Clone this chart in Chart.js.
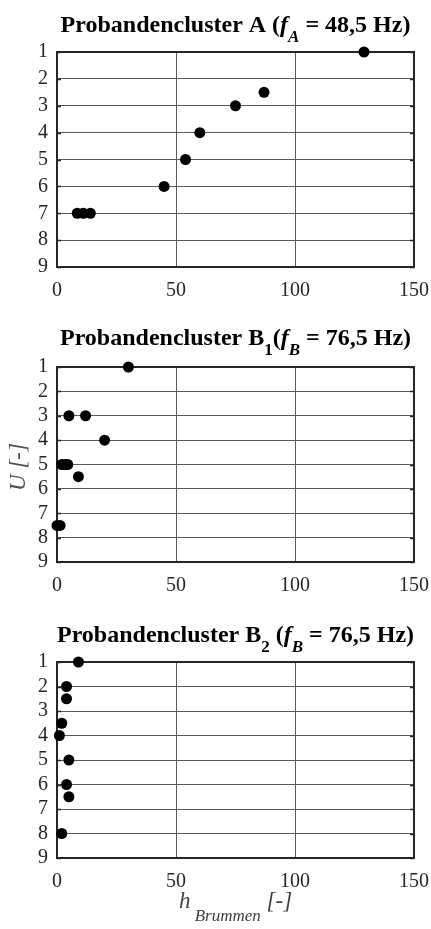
<!DOCTYPE html>
<html>
<head>
<meta charset="utf-8">
<script src="https://cdn.jsdelivr.net/npm/chart.js@4"></script>
<style>
  html, body { margin: 0; padding: 0; background: #fff; }
  body { width: 431px; height: 929px; position: relative; overflow: hidden; }
  .box { position: absolute; left: 0; width: 431px; }
  canvas { display: block; }
</style>
</head>
<body>
<div class="box" style="top:0px;height:300px"><canvas id="cA" width="431" height="300"></canvas></div>
<div class="box" style="top:300px;height:305px"><canvas id="cB1" width="431" height="305"></canvas></div>
<div class="box" style="top:605px;height:324px"><canvas id="cB2" width="431" height="324"></canvas></div>
<script>
// Daten: h_Brummen (x) und Urteil U (y)
const xA  = [129, 87, 75, 60, 54, 45, 8.5, 11, 14];
const yA  = [1, 2.5, 3, 4, 5, 6, 7, 7, 7];

const xB1 = [30, 5, 12, 20, 2, 3.5, 4.5, 9, 0, 1.3];
const yB1 = [1, 3, 3, 4, 5, 5, 5, 5.5, 7.5, 7.5];

const xB2 = [9, 4, 4, 2, 1, 5, 4, 5, 2];
const yB2 = [1, 2, 2.5, 3.5, 4, 5, 6, 6.5, 8];

const xTicks = [0, 50, 100, 150];
const yTicks = [1, 2, 3, 4, 5, 6, 7, 8, 9];

const SERIF = '"Liberation Serif", "Times New Roman", serif';
const INK = '#262626';

function pts(xs, ys) {
    return xs.map((x, i) => ({ x: x, y: ys[i] }));
}

// zeichnet Rahmen, kleine Ticks und Texte mit Sub-/Kursivteilen
const deko = {
    id: 'deko',
    beforeDatasetsDraw(chart) {
        const a = chart.chartArea;
        const c = chart.ctx;
        c.save();
        c.strokeStyle = INK;
        c.lineWidth = 1.5;
        const ys = chart.scales.y;
        yTicks.forEach(v => {
            const py = Math.round(ys.getPixelForValue(v)) + 0.5;
            c.beginPath();
            c.moveTo(a.left, py); c.lineTo(a.left + 4, py);
            c.moveTo(a.right, py); c.lineTo(a.right - 4, py);
            c.stroke();
        });
        c.lineWidth = 2;
        c.strokeRect(a.left, a.top, a.right - a.left, a.bottom - a.top);
        c.restore();
    },
    afterDraw(chart, args, opts) {
        const c = chart.ctx;
        const a = chart.chartArea;
        (opts.texts || []).forEach(tx => {
            c.save();
            let w = 0;
            tx.parts.forEach(p => { c.font = p.font; w += c.measureText(p.t).width; });
            const cx = tx.x === 'mid' ? (a.left + a.right) / 2 : tx.x;
            c.translate(cx, tx.y);
            if (tx.rot) c.rotate(tx.rot);
            let x = -w / 2;
            c.textBaseline = 'alphabetic';
            c.textAlign = 'left';
            tx.parts.forEach(p => {
                c.font = p.font;
                c.fillStyle = p.color || tx.color || '#000';
                c.fillText(p.t, x, p.dy || 0);
                x += c.measureText(p.t).width;
            });
            c.restore();
        });
    }
};

const B = 'bold 24px ' + SERIF;
const BI = 'italic bold 24px ' + SERIF;
const BS = 'bold 17px ' + SERIF;
const BIS = 'italic bold 17px ' + SERIF;
const LAB = 'italic 23px ' + SERIF;

function makeChart(id, data, h, top, bottom, texts) {
    return new Chart(document.getElementById(id), {
        type: 'scatter',
        data: {
            datasets: [{
                data: data,
                backgroundColor: '#000',
                borderWidth: 0,
                pointRadius: 5.5,
                pointHoverRadius: 5.5,
                clip: false
            }]
        },
        options: {
            responsive: false,
            animation: false,
            events: [],
            layout: { padding: { top: top, right: 17, left: 0, bottom: 0 } },
            plugins: {
                legend: { display: false },
                tooltip: { enabled: false },
                deko: { texts: texts }
            },
            scales: {
                x: {
                    type: 'linear',
                    min: 0, max: 150,
                    afterBuildTicks: s => { s.ticks = xTicks.map(v => ({ value: v })); },
                    afterFit: s => { s.height = h - bottom; s.paddingLeft = 0; s.paddingRight = 0; },
                    border: { display: false },
                    grid: {
                        drawTicks: false,
                        color: ctx => (ctx.tick && (ctx.tick.value === 50 || ctx.tick.value === 100)) ? '#5a5a5a' : 'rgba(0,0,0,0)',
                        lineWidth: 1
                    },
                    ticks: {
                        autoSkip: false,
                        padding: 12,
                        maxRotation: 0,
                        color: INK,
                        font: { family: SERIF, size: 20 }
                    }
                },
                y: {
                    type: 'linear',
                    reverse: true,
                    min: 1, max: 9,
                    afterBuildTicks: s => { s.ticks = yTicks.map(v => ({ value: v })); },
                    afterFit: s => { s.width = 57; s.paddingTop = 0; s.paddingBottom = 0; },
                    border: { display: false },
                    grid: {
                        drawTicks: false,
                        color: ctx => (ctx.tick && ctx.tick.value > 1 && ctx.tick.value < 9) ? '#5a5a5a' : 'rgba(0,0,0,0)',
                        lineWidth: 1
                    },
                    ticks: {
                        autoSkip: false,
                        padding: 9,
                        color: INK,
                        font: { family: SERIF, size: 20 }
                    }
                }
            }
        },
        plugins: [deko]
    });
}

makeChart('cA', pts(xA, yA), 300, 52, 267, [
    { x: 'mid', y: 32, parts: [
        { t: 'Probandencluster A (', font: B },
        { t: 'f', font: BI },
        { t: 'A', font: BIS, dy: 10 },
        { t: ' = 48,5 Hz)', font: B }
    ] }
]);

makeChart('cB1', pts(xB1, yB1), 305, 67, 262, [
    { x: 'mid', y: 45, parts: [
        { t: 'Probandencluster B', font: B },
        { t: '1', font: BS, dy: 10 },
        { t: '(', font: B },
        { t: 'f', font: BI },
        { t: 'B', font: BIS, dy: 10 },
        { t: ' = 76,5 Hz)', font: B }
    ] },
    { x: 18, y: 167, rot: -Math.PI / 2, color: '#505050', parts: [
        { t: 'U [-]', font: LAB, dy: 7 }
    ] }
]);

makeChart('cB2', pts(xB2, yB2), 324, 57, 253, [
    { x: 'mid', y: 37, parts: [
        { t: 'Probandencluster B', font: B },
        { t: '2', font: BS, dy: 10 },
        { t: ' (', font: B },
        { t: 'f', font: BI },
        { t: 'B', font: BIS, dy: 10 },
        { t: ' = 76,5 Hz)', font: B }
    ] },
    { x: 'mid', y: 303, color: '#404040', parts: [
        { t: 'h', font: LAB },
        { t: ' Brummen', font: 'italic 17px ' + SERIF, dy: 13 },
        { t: ' [-]', font: LAB }
    ] }
]);
</script>
</body>
</html>
